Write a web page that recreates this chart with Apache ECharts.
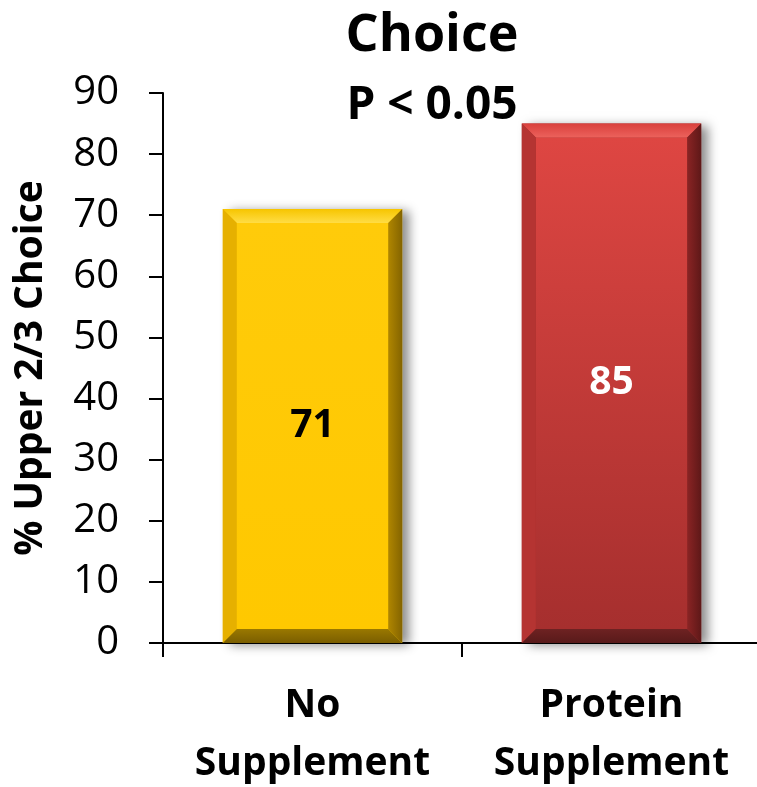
<!DOCTYPE html>
<html>
<head>
<meta charset="utf-8">
<script src="https://cdn.jsdelivr.net/npm/echarts@6/dist/echarts.min.js"></script>
<style>
  html, body { margin: 0; padding: 0; background: #fff; }
  #chart { width: 757px; height: 787px; }
</style>
</head>
<body>
<div id="chart"></div>
<script>
// Share of carcasses grading upper 2/3 Choice, by supplement group
const categories = ['No\nSupplement', 'Protein\nSupplement'];
const choicePct = [71, 85];
const yTicks = { min: 0, max: 90, step: 10 };
const chartTitle = 'Choice';
const chartSubtitle = 'P < 0.05';
const yAxisTitle = '% Upper 2/3 Choice';

// Bevelled bar palettes: face gradient, four edge shades, value text colour
const palettes = [
  { faceTop: '#FFCB0A', faceBottom: '#FFC800', top: ['#F7C500', '#FFDD45'], left: '#E6B000',
    right: ['#B08600', '#846400'], bottom: ['#9A7800', '#7A5E00'], text: '#000000' },
  { faceTop: '#DE4642', faceBottom: '#A62F2E', top: ['#D9403C', '#EC625C'], left: '#B53432',
    right: ['#8A2424', '#5E1818'], bottom: ['#6E2222', '#581A1A'], text: '#FFFFFF' }
];

const FONT = '"Open Sans", "Liberation Sans", sans-serif';

function vGrad(c0, c1) {
  return new echarts.graphic.LinearGradient(0, 0, 0, 1, [
    { offset: 0, color: c0 }, { offset: 1, color: c1 }
  ]);
}
function hGrad(c0, c1) {
  return new echarts.graphic.LinearGradient(0, 0, 1, 0, [
    { offset: 0, color: c0 }, { offset: 1, color: c1 }
  ]);
}

function renderBar(params, api) {
  const idx = api.value(0);
  const val = api.value(1);
  const p = palettes[params.dataIndex];
  const topPt = api.coord([idx, val]);
  const basePt = api.coord([idx, 0]);
  const w = api.size([1, 0])[0] * 0.6;
  const l = topPt[0] - w / 2, r = topPt[0] + w / 2;
  const t = topPt[1], b = basePt[1];
  const bv = 14;
  const children = [
    // drop shadow behind the bar
    { type: 'rect', shape: { x: l, y: t, width: w, height: b - t },
      style: { fill: p.faceBottom, shadowBlur: 10, shadowOffsetX: 7, shadowOffsetY: 2,
               shadowColor: 'rgba(0,0,0,0.45)' } },
    // face
    { type: 'rect', shape: { x: l + bv, y: t + bv, width: w - 2 * bv, height: b - t - 2 * bv },
      style: { fill: vGrad(p.faceTop, p.faceBottom) } },
    // top bevel
    { type: 'polygon', shape: { points: [[l, t], [r, t], [r - bv, t + bv], [l + bv, t + bv]] },
      style: { fill: vGrad(p.top[0], p.top[1]) } },
    // left bevel
    { type: 'polygon', shape: { points: [[l, t], [l + bv, t + bv], [l + bv, b - bv], [l, b]] },
      style: { fill: p.left } },
    // right bevel
    { type: 'polygon', shape: { points: [[r, t], [r, b], [r - bv, b - bv], [r - bv, t + bv]] },
      style: { fill: hGrad(p.right[0], p.right[1]) } },
    // bottom bevel
    { type: 'polygon', shape: { points: [[l, b], [l + bv, b - bv], [r - bv, b - bv], [r, b]] },
      style: { fill: vGrad(p.bottom[0], p.bottom[1]) } },
    // value label
    { type: 'text', x: topPt[0], y: (t + b) / 2,
      style: { text: String(val), fill: p.text, font: 'bold 39px ' + FONT,
               textAlign: 'center', textVerticalAlign: 'middle' } }
  ];
  return { type: 'group', children: children };
}

const chart = echarts.init(document.getElementById('chart'), null, { renderer: 'canvas' });
chart.setOption({
  backgroundColor: '#ffffff',
  animation: false,
  grid: { left: 163, top: 93, width: 598, bottom: 144, containLabel: false, outerBoundsMode: 'none' },
  graphic: [
    { type: 'text', x: 432, y: 36,
      style: { text: chartTitle, fill: '#000', font: 'bold 52px ' + FONT,
               textAlign: 'center', textVerticalAlign: 'middle' } },
    { type: 'text', x: 432, y: 106,
      style: { text: chartSubtitle, fill: '#000', font: 'bold 46px ' + FONT,
               textAlign: 'center', textVerticalAlign: 'middle' } }
  ],
  xAxis: {
    type: 'category',
    data: categories,
    boundaryGap: true,
    axisLine: { lineStyle: { color: '#000', width: 2 } },
    axisTick: { show: true, length: 14, alignWithLabel: false, lineStyle: { color: '#000', width: 2 } },
    axisLabel: { color: '#000', fontFamily: FONT, fontWeight: 'bold', fontSize: 39,
                 lineHeight: 58, margin: 34, interval: 0 }
  },
  yAxis: {
    type: 'value',
    min: yTicks.min, max: yTicks.max, interval: yTicks.step,
    name: yAxisTitle,
    nameLocation: 'middle',
    nameRotate: 90,
    nameGap: 113,
    nameTextStyle: { color: '#000', fontFamily: FONT, fontWeight: 'bold', fontSize: 39 },
    axisLine: { show: true, lineStyle: { color: '#000', width: 2 } },
    axisTick: { show: true, length: 14, lineStyle: { color: '#000', width: 2 } },
    axisLabel: { color: '#000', fontFamily: FONT, fontSize: 40, margin: 44 },
    splitLine: { show: false }
  },
  series: [{
    type: 'custom',
    renderItem: renderBar,
    data: choicePct.map((v, i) => [i, v]),
    encode: { x: 0, y: 1 },
    z: 2
  }]
});
</script>
</body>
</html>
